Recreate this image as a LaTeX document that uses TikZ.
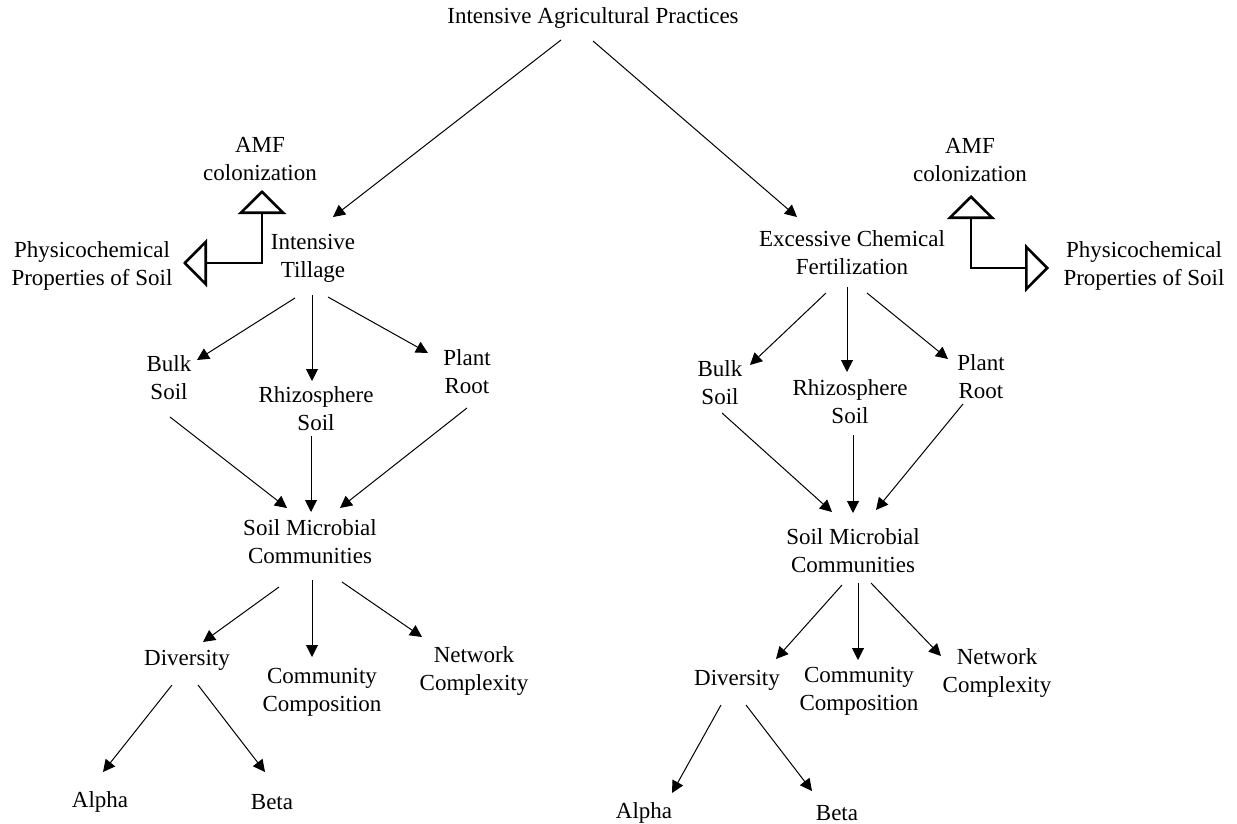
\documentclass[tikz,border=0pt]{standalone}
\usepackage{fontspec}
\setmainfont{Liberation Serif}
\usepackage{tikz}
\usetikzlibrary{
  arrows.meta,
  calc
}

\begin{document}
\begin{tikzpicture}[x=0.5pt, y=-0.5pt,
    every node/.style={font=\fontsize{11.5}{14}\selectfont, align=center, inner sep=2pt},
    arr/.style={-{Triangle[length=6pt, width=6pt]}, line width=0.5pt},
    hollow/.style={{Triangle[open, length=12pt, width=24pt]}-{Triangle[open, length=12pt, width=24pt]}, line width=1.3pt}]
\useasboundingbox (0,0) rectangle (1237,824);

% top
\node (top) at (593,18) {Intensive Agricultural Practices};

% left branch
\node (tillL)  at (313,258) {Intensive\\Tillage};
\node (amfL)   at (260,159) {AMF\\colonization};
\node (physL)  at (92,266)  {Physicochemical\\Properties of Soil};
\node (bulkL)  at (169,378) {Bulk\\Soil};
\node (rhizL)  at (316,409) {Rhizosphere\\Soil};
\node (rootL)  at (467,372) {Plant\\Root};
\node (smcL)   at (310,542) {Soil Microbial\\Communities};
\node (divL)   at (187,660) {Diversity};
\node (compL)  at (322,692) {Community\\Composition};
\node (netL)   at (474,671) {Network\\Complexity};
\node (alphaL) at (100,802) {Alpha};
\node (betaL)  at (272,802) {Beta};

% right branch
\node (fertR)  at (852,253) {Excessive Chemical\\Fertilization};
\node (amfR)   at (970,160) {AMF\\colonization};
\node (physR)  at (1144,266) {Physicochemical\\Properties of Soil};
\node (bulkR)  at (720,383) {Bulk\\Soil};
\node (rhizR)  at (850,402) {Rhizosphere\\Soil};
\node (rootR)  at (981,377) {Plant\\Root};
\node (smcR)   at (853,551) {Soil Microbial\\Communities};
\node (divR)   at (737,680) {Diversity};
\node (compR)  at (859,691) {Community\\Composition};
\node (netR)   at (997,673) {Network\\Complexity};
\node (alphaR) at (644,813) {Alpha};
\node (betaR)  at (837,813) {Beta};

% arrows from the top
\draw[arr] ($(top)+(-32,22)$) -- ($(tillL)+(20,-41)$);
\draw[arr] ($(top)+(0,23)$) -- ($(fertR)+(-55,-36)$);

% left arrows
\draw[hollow] ($(amfL)+(2,31)$) |- ($(physL)+(91,-3)$);
\draw[arr] ($(tillL)+(-18,40)$) -- ($(bulkL)+(28,-18)$);
\draw[arr] ($(tillL)+(-1,37)$) -- ($(rhizL)+(-4,-28)$);
\draw[arr] ($(tillL)+(15,39)$) -- ($(rootL)+(-39,-19)$);
\draw[arr] ($(bulkL)+(1,39)$) -- ($(smcL)+(-23,-34)$);
\draw[arr] ($(rhizL)+(-5,27)$) -- ($(smcL)+(1,-30)$);
\draw[arr] ($(rootL)+(0,36)$) -- ($(smcL)+(30,-34)$);
\draw[arr] ($(smcL)+(-31,45)$) -- ($(divL)+(16,-18)$);
\draw[arr] ($(smcL)+(2,38)$) -- ($(compL)+(-10,-35)$);
\draw[arr] ($(smcL)+(32,40)$) -- ($(netL)+(-52,-34)$);
\draw[arr] ($(divL)+(-15,25)$) -- ($(alphaL)+(3,-30)$);
\draw[arr] ($(divL)+(11,25)$) -- ($(betaL)+(-7,-30)$);

% right arrows
\draw[hollow] ($(amfR)+(1,35)$) |- ($(physR)+(-95,2)$);
\draw[arr] ($(fertR)+(-26,40)$) -- ($(bulkR)+(30,-18)$);
\draw[arr] ($(fertR)+(-5,34)$) -- ($(rhizR)+(-3,-30)$);
\draw[arr] ($(fertR)+(15,40)$) -- ($(rootR)+(-33,-18)$);
\draw[arr] ($(bulkR)+(2,30)$) -- ($(smcR)+(-21,-39)$);
\draw[arr] ($(rhizR)+(3,33)$) -- ($(smcR)+(0,-38)$);
\draw[arr] ($(rootR)+(-18,27)$) -- ($(smcR)+(23,-41)$);
\draw[arr] ($(smcR)+(-11,34)$) -- ($(divR)+(39,-21)$);
\draw[arr] ($(smcR)+(5,32)$) -- ($(compR)+(-1,-31)$);
\draw[arr] ($(smcR)+(18,32)$) -- ($(netR)+(-56,-17)$);
\draw[arr] ($(divR)+(-16,25)$) -- ($(alphaR)+(28,-20)$);
\draw[arr] ($(divR)+(9,25)$) -- ($(betaR)+(-25,-22)$);
\end{tikzpicture}
\end{document}
